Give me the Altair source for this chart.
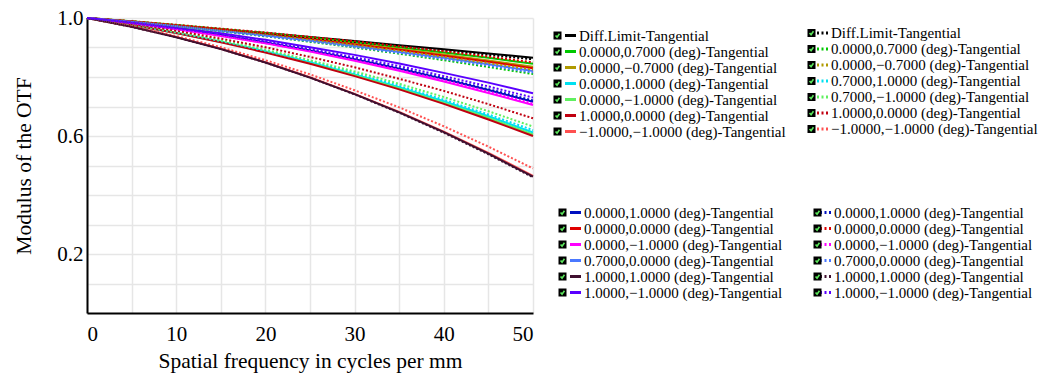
import altair as alt
import pandas as pd

freq = [0, 5, 10, 15, 20, 25, 30, 35, 40, 45, 50]

# Legend column 1 (solid lines)
labels_c1 = ["Diff.Limit-Tangential", "0.0000,0.7000 (deg)-Tangential",
             "0.0000,\u22120.7000 (deg)-Tangential", "0.0000,1.0000 (deg)-Tangential",
             "0.0000,\u22121.0000 (deg)-Tangential", "1.0000,0.0000 (deg)-Tangential",
             "\u22121.0000,\u22121.0000 (deg)-Tangential"]
# Legend column 2 (dotted lines)
labels_c2 = ["Diff.Limit-Tangential", "0.0000,0.7000 (deg)-Tangential",
             "0.0000,\u22120.7000 (deg)-Tangential", "0.7000,1.0000 (deg)-Tangential",
             "0.7000,\u22121.0000 (deg)-Tangential", "1.0000,0.0000 (deg)-Tangential",
             "\u22121.0000,\u22121.0000 (deg)-Tangential"]
# Legend columns 3 (solid) and 4 (dotted)
labels_c3 = ["0.0000,1.0000 (deg)-Tangential", "0.0000,0.0000 (deg)-Tangential",
             "0.0000,\u22121.0000 (deg)-Tangential", "0.7000,0.0000 (deg)-Tangential",
             "1.0000,1.0000 (deg)-Tangential", "1.0000,\u22121.0000 (deg)-Tangential"]
labels_c4 = list(labels_c3)

colors_a = ["#000000", "#00c800", "#b09a00", "#00e0f0", "#60f060", "#c00010", "#ff5050"]
colors_b = ["#0010c0", "#e00000", "#ff00ff", "#4a78ff", "#401030", "#5a00ff"]

values_c1 = [
    [1.000, 0.988, 0.975, 0.962, 0.949, 0.936, 0.922, 0.908, 0.894, 0.880, 0.865],
    [1.000, 0.989, 0.976, 0.963, 0.949, 0.934, 0.918, 0.901, 0.883, 0.865, 0.845],
    [1.000, 0.988, 0.975, 0.961, 0.946, 0.930, 0.913, 0.895, 0.876, 0.856, 0.835],
    [1.000, 0.977, 0.950, 0.920, 0.887, 0.850, 0.809, 0.765, 0.718, 0.667, 0.612],
    [1.000, 0.977, 0.949, 0.919, 0.885, 0.847, 0.806, 0.761, 0.712, 0.661, 0.605],
    [1.000, 0.976, 0.949, 0.918, 0.883, 0.845, 0.803, 0.758, 0.709, 0.656, 0.600],
    [1.000, 0.971, 0.936, 0.896, 0.850, 0.799, 0.743, 0.682, 0.615, 0.543, 0.465],
]
values_c2 = [
    [1.000, 0.987, 0.974, 0.961, 0.947, 0.934, 0.919, 0.905, 0.890, 0.875, 0.860],
    [1.000, 0.986, 0.971, 0.955, 0.938, 0.919, 0.900, 0.879, 0.857, 0.834, 0.810],
    [1.000, 0.987, 0.973, 0.959, 0.943, 0.926, 0.908, 0.889, 0.868, 0.847, 0.825],
    [1.000, 0.977, 0.951, 0.922, 0.889, 0.853, 0.813, 0.770, 0.723, 0.673, 0.620],
    [1.000, 0.978, 0.953, 0.924, 0.893, 0.857, 0.819, 0.777, 0.732, 0.684, 0.632],
    [1.000, 0.980, 0.957, 0.930, 0.901, 0.868, 0.833, 0.794, 0.753, 0.708, 0.660],
    [1.000, 0.972, 0.939, 0.901, 0.857, 0.809, 0.755, 0.697, 0.633, 0.564, 0.490],
]
values_c3 = [
    [1.000, 0.983, 0.964, 0.942, 0.917, 0.890, 0.860, 0.828, 0.793, 0.756, 0.716],
    [1.000, 0.988, 0.974, 0.960, 0.944, 0.928, 0.910, 0.892, 0.872, 0.852, 0.830],
    [1.000, 0.982, 0.962, 0.939, 0.914, 0.886, 0.855, 0.821, 0.785, 0.746, 0.705],
    [1.000, 0.987, 0.973, 0.957, 0.941, 0.924, 0.905, 0.885, 0.865, 0.843, 0.820],
    [1.000, 0.970, 0.935, 0.895, 0.849, 0.798, 0.742, 0.680, 0.613, 0.540, 0.462],
    [1.000, 0.985, 0.967, 0.948, 0.926, 0.901, 0.875, 0.846, 0.814, 0.781, 0.745],
]
values_c4 = [
    [1.000, 0.983, 0.964, 0.942, 0.918, 0.892, 0.862, 0.830, 0.796, 0.759, 0.720],
    [1.000, 0.989, 0.977, 0.964, 0.951, 0.936, 0.921, 0.904, 0.887, 0.869, 0.850],
    [1.000, 0.983, 0.963, 0.940, 0.915, 0.888, 0.857, 0.824, 0.789, 0.751, 0.710],
    [1.000, 0.987, 0.972, 0.956, 0.939, 0.921, 0.902, 0.882, 0.861, 0.839, 0.815],
    [1.000, 0.970, 0.935, 0.895, 0.849, 0.798, 0.741, 0.679, 0.611, 0.538, 0.460],
    [1.000, 0.984, 0.965, 0.945, 0.921, 0.895, 0.867, 0.837, 0.803, 0.768, 0.730],
]

x_ticks = [0, 5, 10, 15, 20, 25, 30, 35, 40, 45, 50]
y_ticks = [0.1, 0.2, 0.3, 0.4, 0.5, 0.6, 0.7, 0.8, 0.9, 1.0]

FONT = "Liberation Serif"
LEG_FONT = 15
CLIP_H = 13
ROW_PAD = 0
CHECK_PATH = "M-0.65,0.0 L-0.15,0.55 L0.65,-0.6"


def frame(labels, values):
    rows = []
    for lab, vals in zip(labels, values):
        for f, v in zip(freq, vals):
            rows.append({"freq": f, "mtf": v, "series": lab})
    return pd.DataFrame(rows)


x_enc = alt.X("freq:Q", scale=alt.Scale(domain=[0, 50], nice=False),
              axis=alt.Axis(values=x_ticks,
                            labelExpr="datum.value % 10 == 0 ? datum.label : ''",
                            title="Spatial frequency in cycles per mm"))
y_enc = alt.Y("mtf:Q", scale=alt.Scale(domain=[0, 1.0], nice=False),
              axis=alt.Axis(values=y_ticks,
                            labelExpr="(abs(datum.value-0.2)<0.001 || abs(datum.value-0.6)<0.001 || abs(datum.value-1)<0.001) ? format(datum.value, '.1f') : ''",
                            title="Modulus of the OTF"))


def layer(labels, values, colors, dotted, lx, ly):
    leg = dict(orient="none", legendX=lx, legendY=ly, title=None,
               symbolType="stroke", symbolStrokeWidth=3, symbolSize=121,
               labelFont=FONT, labelFontSize=LEG_FONT, labelColor="#000000",
               labelLimit=400, padding=0, rowPadding=ROW_PAD, clipHeight=CLIP_H,
               labelOffset=1)
    mark = dict(strokeWidth=2)
    if dotted:
        leg["symbolDash"] = [2, 2.5]
        mark["strokeDash"] = [2, 2]
    return alt.Chart(frame(labels, values)).mark_line(**mark).encode(
        x=x_enc, y=y_enc,
        color=alt.Color("series:N",
                        scale=alt.Scale(domain=labels, range=colors),
                        legend=alt.Legend(**leg)),
    )


def checkbox(labels, values, lx, ly, part):
    # empty-data layer whose legend draws the check boxes beside each entry
    leg = dict(orient="none", legendX=lx, legendY=ly, title=None,
               labelExpr="' '", labelFont=FONT, labelFontSize=LEG_FONT,
               labelColor="transparent", padding=0, rowPadding=ROW_PAD,
               clipHeight=CLIP_H, labelOffset=0)
    if part == "box":
        mark = dict(filled=True, color="#000000", opacity=1)
        rng = ["square"] * len(labels)
        leg.update(symbolSize=64, symbolFillColor="#000000",
                   symbolStrokeColor="#000000", symbolStrokeWidth=0)
    else:
        mark = dict(filled=False, color="#5ce65c", opacity=1)
        rng = [CHECK_PATH] * len(labels)
        leg.update(symbolSize=36, symbolStrokeColor="#5ce65c",
                   symbolFillColor="transparent", symbolStrokeWidth=1.6)
    return alt.Chart(frame(labels, values)).transform_filter(
        "datum.freq < 0").mark_point(**mark).encode(
        x=x_enc, y=y_enc,
        shape=alt.Shape("series:N", scale=alt.Scale(domain=labels, range=rng),
                        legend=alt.Legend(**leg)),
    )


LY1, LY2, LY3 = 11, 8.5, 188
chart = alt.layer(
    layer(labels_c1, values_c1, colors_a, False, 476, LY1),
    layer(labels_c3, values_c3, colors_b, False, 481, LY3),
    layer(labels_c2, values_c2, colors_a, True, 728, LY2),
    layer(labels_c4, values_c4, colors_b, True, 731, LY3),
    checkbox(labels_c1, values_c1, 463, LY1, "box"),
    checkbox(labels_c1, values_c1, 463, LY1, "check"),
    checkbox(labels_c2, values_c2, 717, LY2, "box"),
    checkbox(labels_c2, values_c2, 717, LY2, "check"),
    checkbox(labels_c3, values_c3, 468, LY3, "box"),
    checkbox(labels_c3, values_c3, 468, LY3, "check"),
    checkbox(labels_c4, values_c4, 723, LY3, "box"),
    checkbox(labels_c4, values_c4, 723, LY3, "check"),
).resolve_scale(color="independent", shape="independent").properties(
    width=446, height=295,
    autosize=alt.AutoSizeParams(type="none"),
    padding={"left": 87, "top": 18, "right": 520, "bottom": 64},
).configure_view(stroke=None).configure_axis(
    labelFont=FONT, titleFont=FONT, labelFontSize=21, titleFontSize=21.5,
    labelColor="#000000", titleColor="#000000", titleFontWeight="normal",
    grid=True, gridColor="#e6e6e6", gridWidth=1.5,
    domainColor="#000000", domainWidth=2, ticks=False,
).configure_axisX(labelPadding=10, titlePadding=6).configure_axisY(
    labelPadding=4, titlePadding=21)

chart.save("out.html", embed_options={"renderer": "svg", "actions": False})
